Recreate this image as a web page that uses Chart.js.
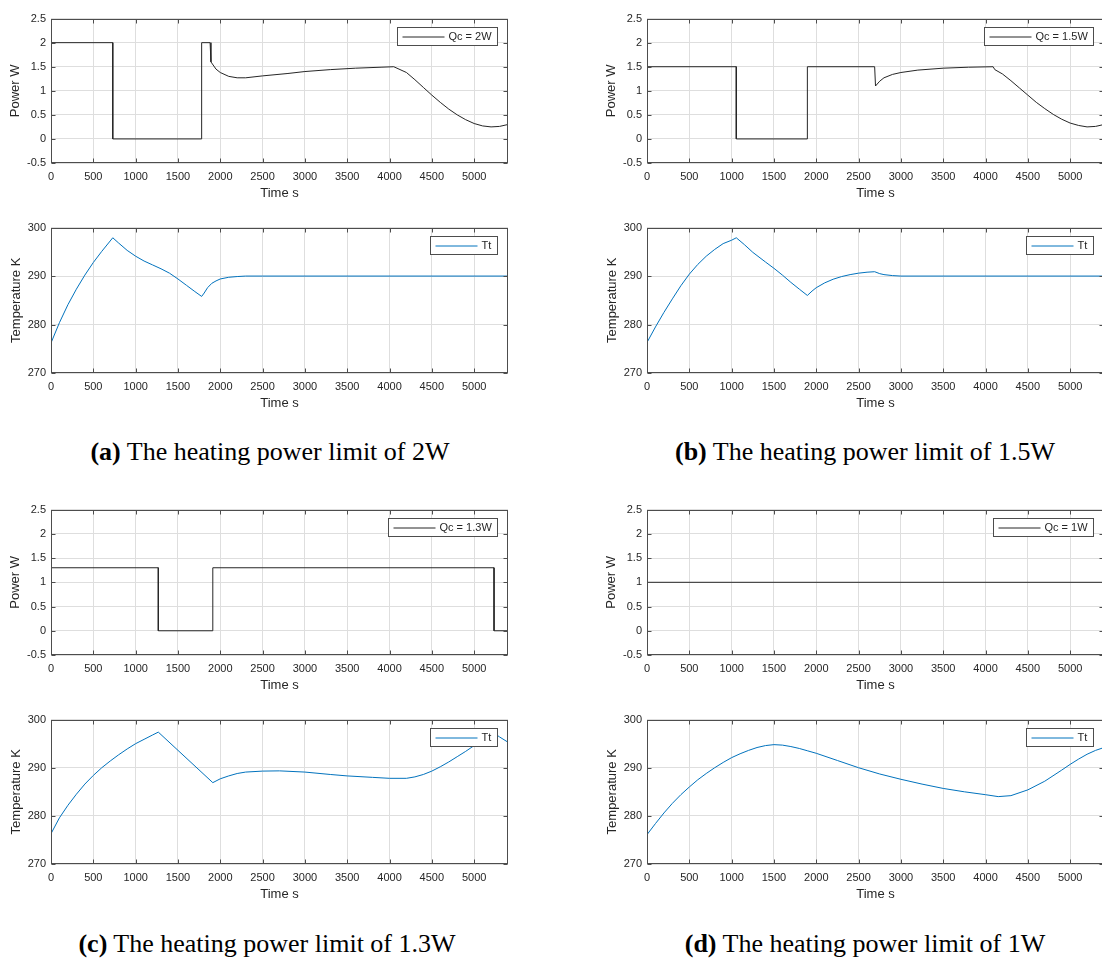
<!DOCTYPE html>
<html lang="en">
<head>
<meta charset="UTF-8" />
<title>Heating power limit</title>
<script src="https://cdn.jsdelivr.net/npm/chart.js@4.4.0/dist/chart.umd.min.js"></script>
<style>
  html, body { margin: 0; padding: 0; background: #fff; overflow: hidden; }
  #fig { position: relative; width: 1102px; height: 958px; overflow: hidden; }
  canvas { position: absolute; }
  .cap {
    position: absolute; transform: translateX(-50%); white-space: nowrap;
    font-family: "Liberation Serif", "Times New Roman", serif; font-size: 26px;
    line-height: 30px; color: #000;
  }
</style>
</head>
<body>
<div id="fig">
  <canvas id="pA" width="520" height="194" style="left:0;top:7px"></canvas>
  <canvas id="tA" width="520" height="195" style="left:0;top:216px"></canvas>
  <canvas id="pB" width="510" height="194" style="left:596px;top:7px"></canvas>
  <canvas id="tB" width="510" height="195" style="left:596px;top:216px"></canvas>
  <canvas id="pC" width="520" height="195" style="left:0;top:498px"></canvas>
  <canvas id="tC" width="520" height="194" style="left:0;top:708px"></canvas>
  <canvas id="pD" width="510" height="195" style="left:596px;top:498px"></canvas>
  <canvas id="tD" width="510" height="194" style="left:596px;top:708px"></canvas>
  <div class="cap" style="left:270px;top:437px"><b>(a)</b> The heating power limit of 2W</div>
  <div class="cap" style="left:865px;top:437px"><b>(b)</b> The heating power limit of 1.5W</div>
  <div class="cap" style="left:267px;top:929px"><b>(c)</b> The heating power limit of 1.3W</div>
  <div class="cap" style="left:865px;top:929px"><b>(d)</b> The heating power limit of 1W</div>
</div>

<script>
// ---- data (time in s) ----
const powerLabels = ["Qc = 2W", "Qc = 1.5W", "Qc = 1.3W", "Qc = 1W"];
const tempLabel = "Tt";
const xTickVals = [0, 500, 1000, 1500, 2000, 2500, 3000, 3500, 4000, 4500, 5000];

// (a) 2W
const pA_t = [0, 730, 730, 1780, 1780, 1880, 1890, 1950, 2000, 2100, 2200, 2300, 2500, 2800, 3000, 3300, 3600, 3900, 4050, 4200, 4300, 4400, 4500, 4600, 4700, 4800, 4900, 5000, 5100, 5200, 5300, 5400];
const pA_v = [2, 2, 0, 0, 2, 2, 1.6, 1.45, 1.38, 1.3, 1.27, 1.27, 1.31, 1.36, 1.4, 1.44, 1.47, 1.49, 1.5, 1.38, 1.23, 1.07, 0.91, 0.76, 0.62, 0.5, 0.4, 0.32, 0.27, 0.25, 0.26, 0.3];
const tA_t = [0, 100, 200, 300, 400, 500, 600, 730, 800, 900, 1000, 1100, 1200, 1300, 1400, 1500, 1600, 1700, 1780, 1810, 1850, 1900, 1950, 2000, 2100, 2200, 2300, 2500, 5400];
const tA_v = [276.2, 280.4, 284.1, 287.3, 290.2, 292.8, 295.1, 297.9, 296.8, 295.3, 294.1, 293.1, 292.3, 291.5, 290.6, 289.4, 288.1, 286.8, 285.8, 286.5, 287.6, 288.5, 289.0, 289.4, 289.75, 289.9, 290.0, 290.0, 290.0];

// (b) 1.5W
const pB_t = [0, 1055, 1055, 1895, 1895, 2690, 2700, 2750, 2800, 2900, 3000, 3200, 3500, 3800, 4090, 4110, 4200, 4300, 4400, 4500, 4600, 4700, 4800, 4900, 5000, 5100, 5200, 5300, 5400];
const pB_v = [1.5, 1.5, 0, 0, 1.5, 1.5, 1.1, 1.2, 1.27, 1.34, 1.38, 1.43, 1.47, 1.49, 1.5, 1.44, 1.35, 1.21, 1.06, 0.91, 0.76, 0.63, 0.51, 0.41, 0.33, 0.28, 0.25, 0.26, 0.3];
const tB_t = [0, 100, 200, 300, 400, 500, 600, 700, 800, 900, 1000, 1055, 1150, 1250, 1400, 1500, 1600, 1700, 1800, 1895, 1950, 2000, 2100, 2200, 2300, 2400, 2500, 2600, 2690, 2750, 2800, 2900, 3000, 5400];
const tB_v = [276.3, 279.5, 282.5, 285.3, 288.0, 290.4, 292.4, 294.1, 295.5, 296.7, 297.4, 297.9, 296.5, 294.9, 292.9, 291.6, 290.2, 288.7, 287.3, 286.0, 286.9, 287.6, 288.6, 289.35, 289.9, 290.3, 290.6, 290.8, 290.9, 290.5, 290.3, 290.1, 290.0, 290.0];

// (c) 1.3W
const pC_t = [0, 1268, 1268, 1912, 1912, 5235, 5235, 5400];
const pC_v = [1.3, 1.3, 0, 0, 1.3, 1.3, 0, 0];
const tC_t = [0, 100, 200, 300, 400, 500, 600, 700, 800, 900, 1000, 1100, 1200, 1268, 1912, 2000, 2100, 2200, 2300, 2500, 2700, 3000, 3300, 3500, 3800, 4000, 4200, 4300, 4400, 4500, 4600, 4700, 4800, 4900, 5000, 5100, 5235, 5300, 5400];
const tC_v = [276.3, 279.6, 282.2, 284.5, 286.6, 288.4, 290.0, 291.4, 292.7, 293.9, 295.0, 295.9, 296.8, 297.4, 286.9, 287.7, 288.3, 288.8, 289.1, 289.3, 289.35, 289.1, 288.6, 288.3, 288.0, 287.8, 287.8, 288.1, 288.6, 289.3, 290.2, 291.2, 292.3, 293.4, 294.6, 295.8, 297.2, 296.4, 295.3];

// (d) 1W
const pD_t = [0, 5400];
const pD_v = [1, 1];
const tD_t = [0, 100, 200, 300, 400, 500, 600, 700, 800, 900, 1000, 1100, 1200, 1300, 1400, 1500, 1600, 1700, 1800, 1900, 2000, 2250, 2500, 2750, 3000, 3250, 3500, 3750, 4000, 4150, 4300, 4500, 4700, 4900, 5000, 5100, 5200, 5300, 5400];
const tD_v = [276.1, 278.4, 280.6, 282.6, 284.4, 286.0, 287.5, 288.8, 290.0, 291.1, 292.1, 292.9, 293.6, 294.2, 294.6, 294.8, 294.7, 294.4, 294.0, 293.5, 293.0, 291.5, 290.0, 288.7, 287.6, 286.6, 285.7, 285.0, 284.4, 284.0, 284.2, 285.4, 287.2, 289.5, 290.7, 291.8, 292.8, 293.6, 294.2];

const xMax = 5400;
const powerRange = [-0.5, 2.5, 0.5];
const tempRange = [270, 300, 10];

// ---- drawing ----
const AXIS = "#4d4d4d";
const TEXT = "#262626";
const GRID = "#dedede";
const SANS = '"Liberation Sans", Arial, sans-serif';

function pts(t, v) { return t.map((x, i) => ({ x: x, y: v[i] })); }

// MATLAB-style box, inward ticks and legend
const boxPlugin = {
  id: "mbox",
  afterDatasetsDraw(chart) {
    const { ctx, chartArea: a, scales } = chart;
    const L = Math.round(a.left) + 0.5, R = Math.round(a.right) - 0.5;
    const T = Math.round(a.top) + 0.5, B = Math.round(a.bottom) - 0.5;
    ctx.save();
    ctx.strokeStyle = AXIS;
    ctx.lineWidth = 1;
    ctx.beginPath();
    scales.x.ticks.forEach(t => {
      const px = Math.round(scales.x.getPixelForValue(t.value)) + 0.5;
      ctx.moveTo(px, B); ctx.lineTo(px, B - 4);
      ctx.moveTo(px, T); ctx.lineTo(px, T + 4);
    });
    scales.y.ticks.forEach(t => {
      const py = Math.round(scales.y.getPixelForValue(t.value)) + 0.5;
      ctx.moveTo(L, py); ctx.lineTo(L + 4, py);
      ctx.moveTo(R, py); ctx.lineTo(R - 4, py);
    });
    ctx.stroke();
    ctx.strokeRect(L, T, R - L, B - T);

    // legend box
    const ds = chart.data.datasets[0];
    ctx.font = "11px " + SANS;
    const tw = ctx.measureText(ds.label).width;
    const w = Math.round(5 + 42 + 4 + tw + 6), h = 18;
    const bx = Math.round(a.right) - 11 - w + 0.5, by = Math.round(a.top) + 8 + 0.5;
    ctx.fillStyle = "#fff";
    ctx.fillRect(bx, by, w, h);
    ctx.strokeStyle = AXIS;
    ctx.strokeRect(bx, by, w, h);
    ctx.strokeStyle = ds.borderColor;
    ctx.beginPath();
    ctx.moveTo(bx + 5, by + h / 2 + 0.5);
    ctx.lineTo(bx + 47, by + h / 2 + 0.5);
    ctx.stroke();
    ctx.fillStyle = TEXT;
    ctx.textBaseline = "middle";
    ctx.textAlign = "left";
    ctx.fillText(ds.label, bx + 51, by + h / 2 + 0.5);
    ctx.restore();
  }
};

function makeChart(id, t, v, label, color, range, yTitle, titlePad, padRight) {
  return new Chart(document.getElementById(id), {
    type: "line",
    data: {
      datasets: [{
        label: label,
        data: pts(t, v),
        borderColor: color,
        borderWidth: 1,
        pointRadius: 0,
        tension: 0,
        fill: false
      }]
    },
    options: {
      responsive: false,
      animation: false,
      devicePixelRatio: 1,
      layout: { padding: { top: 8, right: padRight, left: 0, bottom: 0 } },
      plugins: { legend: { display: false }, tooltip: { enabled: false } },
      scales: {
        x: {
          type: "linear",
          min: 0, max: xMax,
          afterBuildTicks: s => { s.ticks = xTickVals.map(val => ({ value: val })); },
          afterFit: s => { s.height = 38; },
          border: { display: false },
          grid: { color: GRID, drawTicks: false },
          ticks: {
            autoSkip: false, padding: 7, color: TEXT, maxRotation: 0, minRotation: 0,
            font: { family: SANS, size: 11 },
            callback: val => String(val)
          },
          title: {
            display: true, text: "Time s", color: TEXT,
            font: { family: SANS, size: 13 }, padding: { top: 0, bottom: 0 }
          }
        },
        y: {
          min: range[0], max: range[1],
          afterFit: s => { s.width = 51; },
          border: { display: false },
          grid: { color: GRID, drawTicks: false },
          ticks: {
            stepSize: range[2], autoSkip: false, padding: 5, color: TEXT,
            font: { family: SANS, size: 11 },
            callback: val => String(val)
          },
          title: {
            display: true, text: yTitle, color: TEXT,
            font: { family: SANS, size: 13 }, padding: { top: titlePad, bottom: 0 }
          }
        }
      }
    },
    plugins: [boxPlugin]
  });
}

const BLACK = "#262626", BLUE = "#0072BD";
makeChart("pA", pA_t, pA_v, powerLabels[0], BLACK, powerRange, "Power W", 7.5, 12);
makeChart("tA", tA_t, tA_v, tempLabel, BLUE, tempRange, "Temperature K", 8.5, 12);
makeChart("pB", pB_t, pB_v, powerLabels[1], BLACK, powerRange, "Power W", 7.5, 2);
makeChart("tB", tB_t, tB_v, tempLabel, BLUE, tempRange, "Temperature K", 8.5, 2);
makeChart("pC", pC_t, pC_v, powerLabels[2], BLACK, powerRange, "Power W", 7.5, 12);
makeChart("tC", tC_t, tC_v, tempLabel, BLUE, tempRange, "Temperature K", 8.5, 12);
makeChart("pD", pD_t, pD_v, powerLabels[3], BLACK, powerRange, "Power W", 7.5, 2);
makeChart("tD", tD_t, tD_v, tempLabel, BLUE, tempRange, "Temperature K", 8.5, 2);
</script>
</body>
</html>
